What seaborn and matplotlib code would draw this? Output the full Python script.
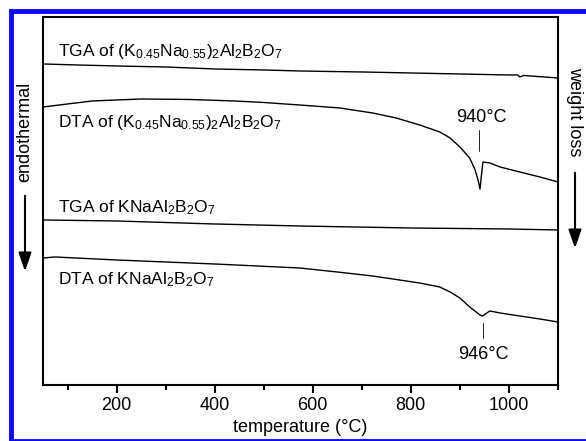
import numpy as np
import pandas as pd
import seaborn as sns
from matplotlib import pyplot as plt
from matplotlib.patches import Rectangle, FancyArrowPatch
from matplotlib.ticker import MultipleLocator

# temperatures (°C) and signals (arbitrary units, offset per curve)
tga1_t = [50, 120, 200, 300, 400, 500, 573, 700, 800, 900, 1000, 1018, 1022, 1030, 1100]
tga1_y = [321, 320, 319, 318, 316, 315, 314, 313, 312, 311, 310, 310, 308, 309.5, 307]

dta1_t = [50, 100, 150, 250, 350, 440, 500, 573, 655, 722, 770, 818, 859, 880,
          900, 920, 931, 937, 941, 944, 947, 961, 982, 1022, 1063, 1100]
dta1_y = [278, 281, 284, 286, 285.5, 284, 282.5, 280, 277, 272, 267, 260, 253, 247,
          238, 227, 215, 205, 196, 210, 223, 222, 218, 213, 208, 203]

tga2_t = [50, 200, 400, 573, 800, 1000, 1100]
tga2_y = [165, 164, 161, 159, 157, 156, 155]

dta2_t = [50, 75, 200, 400, 573, 650, 722, 818, 859, 880, 900, 920, 941, 946, 961,
          982, 1022, 1063, 1100]
dta2_y = [127, 128, 125, 121, 117, 113, 109, 102, 98, 93, 87, 78, 70, 69, 74,
          72, 69, 66, 63]

curve_labels = [r'TGA of (K$_{0.45}$Na$_{0.55}$)$_2$Al$_2$B$_2$O$_7$',
                r'DTA of (K$_{0.45}$Na$_{0.55}$)$_2$Al$_2$B$_2$O$_7$',
                r'TGA of KNaAl$_2$B$_2$O$_7$',
                r'DTA of KNaAl$_2$B$_2$O$_7$']
label_y = [333, 262, 177, 105]
peaks = [940, 946]

sns.set_style('ticks')
plt.rcParams['font.family'] = ['Liberation Sans', 'DejaVu Sans']
plt.rcParams['mathtext.fontset'] = 'custom'
plt.rcParams['mathtext.rm'] = 'Liberation Sans'
plt.rcParams['mathtext.it'] = 'Liberation Sans'
plt.rcParams['text.color'] = 'black'
plt.rcParams['axes.labelcolor'] = 'black'
plt.rcParams['xtick.color'] = 'black'

fig = plt.figure(figsize=(5.86, 4.41), dpi=100)
ax = fig.add_axes([0.0734, 0.127, 0.8788, 0.8345])

for t, y in [(tga1_t, tga1_y), (dta1_t, dta1_y), (tga2_t, tga2_y), (dta2_t, dta2_y)]:
    df = pd.DataFrame({'T': t, 'y': y})
    sns.lineplot(data=df, x='T', y='y', ax=ax, color='black', lw=1.0, sort=False)

for lab, yy in zip(curve_labels, label_y):
    ax.text(80, yy, lab, fontsize=12.5, va='center', ha='left')

# peak markers
ax.plot([939, 939], [234, 255], color='black', lw=0.6)
ax.text(944, 267, '%d°C' % peaks[0], fontsize=13, ha='center', va='center')
ax.plot([947, 947], [47, 62], color='black', lw=0.6)
ax.text(947, 30, '%d°C' % peaks[1], fontsize=13, ha='center', va='center')

ax.set_xlim(50, 1100)
ax.set_ylim(0, 368)
ax.set_yticks([])
ax.set_ylabel('')
ax.set_xlabel('temperature (°C)', fontsize=13, labelpad=3)
ax.xaxis.set_major_locator(MultipleLocator(200))
ax.xaxis.set_minor_locator(MultipleLocator(100))
ax.tick_params(axis='x', which='major', length=6, width=1.5, labelsize=13, direction='out', pad=3)
ax.tick_params(axis='x', which='minor', length=3.5, width=1.5, direction='out')
for s in ax.spines.values():
    s.set_visible(True)
    s.set_linewidth(1.5)
    s.set_color('black')

# side annotations
arrow_style = '-|>,head_length=0.8,head_width=0.28'
fig.text(25 / 586, 1 - 132 / 441, 'endothermal', rotation=90, fontsize=13,
         ha='center', va='center')
fig.add_artist(FancyArrowPatch((25 / 586, 1 - 193 / 441), (25 / 586, 1 - 274 / 441),
                               transform=fig.transFigure, arrowstyle=arrow_style,
                               mutation_scale=14, lw=1.5, color='black'))
fig.text(575 / 586, 1 - 112 / 441, 'weight loss', rotation=-90, fontsize=13,
         ha='center', va='center')
fig.add_artist(FancyArrowPatch((575 / 586, 1 - 170 / 441), (575 / 586, 1 - 251 / 441),
                               transform=fig.transFigure, arrowstyle=arrow_style,
                               mutation_scale=14, lw=1.5, color='black'))

# blue frame
fig.add_artist(Rectangle((10.5 / 586, 1 - 440.5 / 441), 0.99, (440.5 - 10.5) / 441,
                         transform=fig.transFigure, fill=False, edgecolor='#0a0aff',
                         lw=3.5, clip_on=False))

fig.savefig('out.png', dpi=100)
